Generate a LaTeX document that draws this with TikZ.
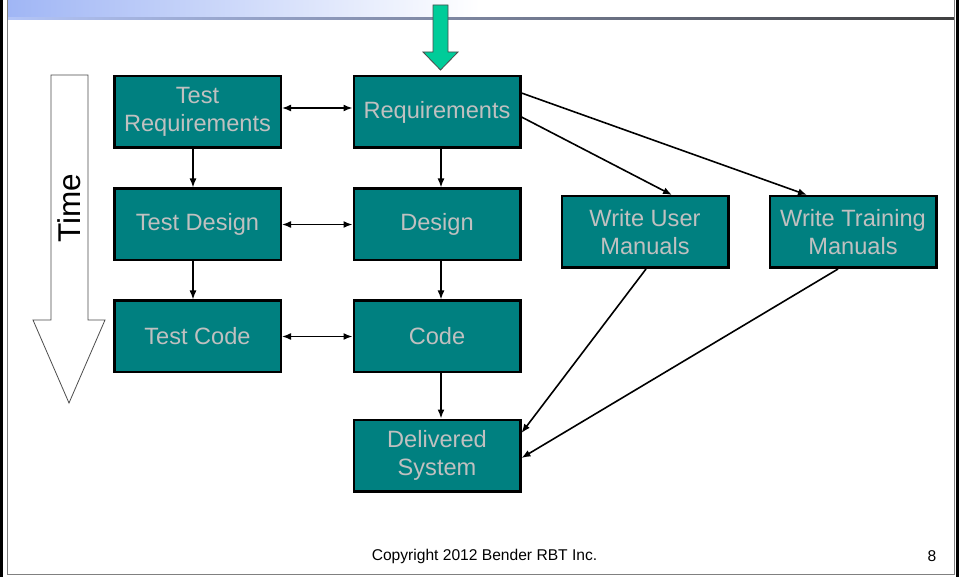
\documentclass[tikz,border=0pt]{standalone}
\usepackage{fontspec}
\setmainfont{Liberation Sans}
\usetikzlibrary{arrows.meta}
\definecolor{boxteal}{RGB}{0,128,128}
\definecolor{boxtext}{RGB}{192,192,192}
\definecolor{flowgreen}{RGB}{0,204,153}
\definecolor{bannerblue}{RGB}{160,182,245}
\definecolor{rulegray}{RGB}{64,64,64}
\tikzset{
  stagebox/.style={draw=black, line width=2.5pt, fill=boxteal, text=boxtext,
    minimum width=166.5pt, minimum height=71.5pt, inner sep=2pt, align=center,
    font=\fontsize{23.6}{28}\selectfont},
  flow/.style={line width=1.6pt, -{Latex[length=9pt,width=7pt]}},
  both/.style={line width=1.6pt, {Latex[length=9pt,width=7pt]}-{Latex[length=9pt,width=7pt]}}
}
\begin{document}
\begin{tikzpicture}[x=1pt,y=-1pt]
\useasboundingbox (0,0) rectangle (959,577);
% page frame
\fill[white] (0,0) rectangle (959,577);
\shade[left color=bannerblue, right color=white] (8,0) rectangle (480,18);
\shade[left color=bannerblue!80, right color=rulegray] (8,18) rectangle (954,20);
\draw[black, line width=3pt] (1.5,0) -- (1.5,577);
\draw[black, line width=2.5pt] (957.7,0) -- (957.7,577);
\draw[gray, line width=1pt] (7.5,0) -- (7.5,574.5) -- (954,574.5) -- (954,0);

% time axis
\draw[fill=white, draw=black!70, line width=0.8pt]
  (51,75) -- (88,75) -- (88,320) -- (105,320) -- (69,403) -- (33,320) -- (51,320) -- cycle;
\node[rotate=90, font=\fontsize{31.5}{36}\selectfont] (time) at (69,208) {Time};

% entry arrow
\draw[fill=flowgreen, draw=black!70, line width=0.8pt]
  (433,5) -- (448,5) -- (448,52) -- (458,52) -- (440.5,70) -- (423,52) -- (433,52) -- cycle;

% stages
\node[stagebox] (treq)  at (197.5,112)   {Test\\Requirements};
\node[stagebox] (req)   at (437,112)     {Requirements};
\node[stagebox] (tdes)  at (197.5,224.5) {Test Design};
\node[stagebox] (des)   at (437,224.5)   {Design};
\node[stagebox] (tcode) at (197.5,336.5) {Test Code};
\node[stagebox] (code)  at (437,336.5)   {Code};
\node[stagebox] (deliv) at (437,455.5)   {Delivered\\System};
\node[stagebox] (wum)   at (645,232)     {Write User\\Manuals};
\node[stagebox] (wtm)   at (853,232)     {Write Training\\Manuals};

% links between stages
\draw[both] ([yshift=4pt]treq.east) -- ([yshift=4pt]req.west);
\draw[both] (tdes.east) -- (des.west);
\draw[both] (tcode.east) -- (code.west);
\draw[flow] ([xshift=-4.5pt]treq.south) -- ([xshift=-4.5pt]tdes.north);
\draw[flow] ([xshift=-4.5pt]tdes.south) -- ([xshift=-4.5pt]tcode.north);
\draw[flow] ([xshift=4pt]req.south) -- ([xshift=4pt]des.north);
\draw[flow] ([xshift=4pt]des.south) -- ([xshift=4pt]code.north);
\draw[flow] ([xshift=4pt]code.south) -- ([xshift=4pt]deliv.north);
\draw[flow] ([yshift=-5pt]req.east) -- ([xshift=27pt]wum.north);
\draw[flow] ([yshift=19pt]req.east) -- ([xshift=-46pt]wtm.north);
\draw[flow] ([xshift=1pt]wum.south) -- ([yshift=22.5pt]deliv.east);
\draw[flow] ([xshift=-15pt]wtm.south) -- ([yshift=-2.5pt]deliv.east);

% footer
\node[font=\fontsize{15.6}{18}\selectfont] (copy) at (484.5,556) {Copyright 2012 Bender RBT Inc.};
\node[font=\fontsize{15.6}{18}\selectfont] (page) at (932,556) {8};
\end{tikzpicture}
\end{document}
